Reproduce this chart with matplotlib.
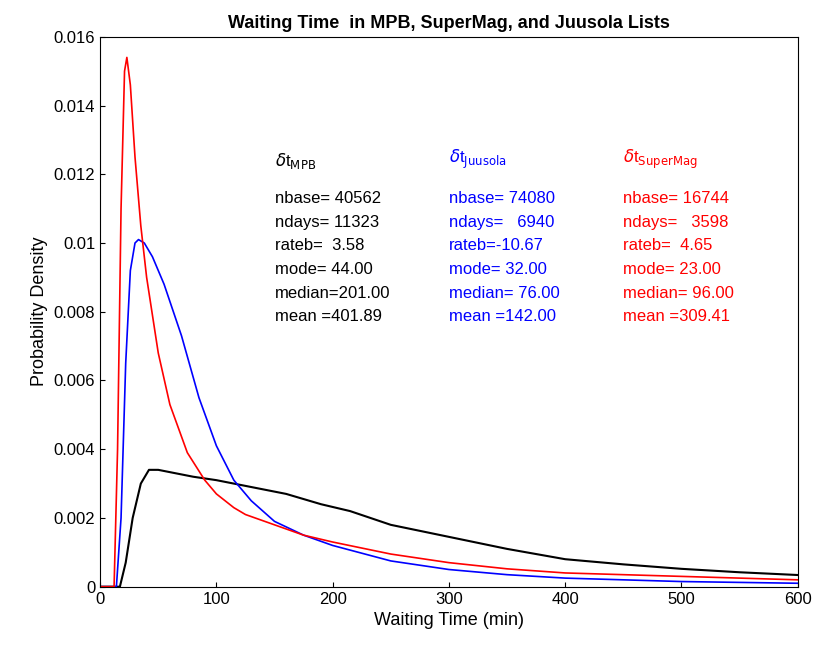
import matplotlib
matplotlib.use("Agg")
import matplotlib.pyplot as plt
import numpy as np

plt.rcParams['font.family'] = ['Liberation Sans', 'DejaVu Sans']

red_x = [0, 12, 15, 18, 21, 23, 26, 30, 35, 40, 50, 60, 75, 90, 100, 115, 125, 150, 175, 200, 250, 300, 350, 400, 500, 600]
red_y = [0, 0, 0.004, 0.011, 0.0150, 0.0154, 0.0146, 0.0125, 0.0105, 0.0090, 0.0068, 0.0053, 0.0039, 0.0031, 0.0027, 0.0023, 0.0021, 0.0018, 0.0015, 0.0013, 0.00095, 0.0007, 0.00052, 0.0004, 0.0003, 0.0002]
blue_x = [0, 14, 18, 22, 26, 30, 33, 38, 45, 55, 70, 85, 100, 115, 130, 150, 175, 200, 250, 300, 350, 400, 500, 600]
blue_y = [0, 0, 0.002, 0.0065, 0.0092, 0.0100, 0.0101, 0.0100, 0.0096, 0.0088, 0.0073, 0.0055, 0.0041, 0.0031, 0.0025, 0.0019, 0.0015, 0.0012, 0.00075, 0.0005, 0.00035, 0.00025, 0.00015, 0.0001]
black_x = [0, 17, 22, 28, 35, 42, 50, 65, 80, 100, 130, 160, 190, 215, 250, 300, 350, 400, 450, 500, 550, 600]
black_y = [0, 0, 0.0007, 0.0020, 0.0030, 0.0034, 0.0034, 0.0033, 0.0032, 0.0031, 0.0029, 0.0027, 0.0024, 0.0022, 0.0018, 0.00145, 0.0011, 0.0008, 0.00065, 0.00052, 0.00042, 0.00034]

cols = [
    (150, "black", "MPB", ["nbase= 40562", "ndays= 11323", "rateb=  3.58", "mode= 44.00", "median=201.00", "mean =401.89"]),
    (300, "blue", "Juusola", ["nbase= 74080", "ndays=   6940", "rateb=-10.67", "mode= 32.00", "median= 76.00", "mean =142.00"]),
    (450, "red", "SuperMag", ["nbase= 16744", "ndays=   3598", "rateb=  4.65", "mode= 23.00", "median= 96.00", "mean =309.41"]),
]

fig = plt.figure(figsize=(8.14, 6.57), dpi=100)
ax = fig.add_axes([0.123, 0.107, 0.857, 0.837])
ax.plot(black_x, black_y, color="black", lw=1.5)
ax.plot(blue_x, blue_y, color="blue", lw=1.2)
ax.plot(red_x, red_y, color="red", lw=1.2)
ax.set_xlim(0, 600)
ax.set_ylim(0, 0.016)
ax.set_xticks([0, 100, 200, 300, 400, 500, 600])
ax.set_yticks([0, 0.002, 0.004, 0.006, 0.008, 0.01, 0.012, 0.014, 0.016])
ax.set_yticklabels(["0", "0.002", "0.004", "0.006", "0.008", "0.01", "0.012", "0.014", "0.016"])
ax.tick_params(labelsize=12, direction="in")
ax.set_xlabel("Waiting Time (min)", fontsize=13)
ax.set_ylabel("Probability Density", fontsize=13)
ax.set_title("Waiting Time  in MPB, SuperMag, and Juusola Lists", fontsize=13, fontweight="bold")

for x, c, sub, lines in cols:
    ax.text(x, 0.0121, r"$\delta$t$_{\mathrm{%s}}$" % sub, color=c, fontsize=12, va="bottom")
    for i, s in enumerate(lines):
        ax.text(x, 0.0113 - i * 0.00069, s, color=c, fontsize=12, va="center")
fig.savefig("out.png", dpi=100)
